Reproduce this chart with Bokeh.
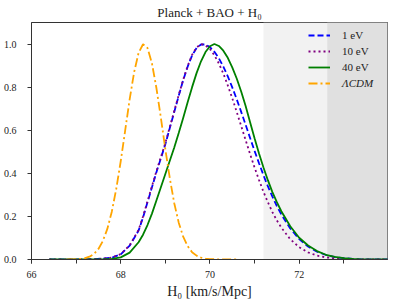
from bokeh.plotting import figure
from bokeh.models import (Range1d, SingleIntervalTicker, PrintfTickFormatter,
                          Legend, LegendItem, BoxAnnotation, Title)
from bokeh.embed import file_html
from bokeh.resources import INLINE

# ---------------- data ----------------
title_text = "Planck + BAO + H\u2080"
xlabel_text = "H\u2080 [km/s/Mpc]"
series_names = ["1 eV", "10 eV", "40 eV", "\u039bCDM"]

h0_grid = [66.4, 66.6, 66.8, 67.0, 67.2, 67.4, 67.6, 67.8, 68.0, 68.2, 68.4,
           68.5, 68.6, 68.7, 68.8, 68.9,
           69.0, 69.1, 69.2, 69.3, 69.4, 69.5, 69.6, 69.7, 69.8, 69.9,
           70.0, 70.1, 70.2, 70.3, 70.4, 70.5, 70.6, 70.7, 70.8, 70.9,
           71.0, 71.1, 71.2, 71.3, 71.4, 71.5,
           71.6, 71.8, 72.0, 72.2, 72.4, 72.6, 72.8, 73.0, 73.2, 73.4, 73.6, 73.8, 74.0]

one_ev = [0.000, 0.000, 0.000, 0.000, 0.001, 0.002, 0.004, 0.008, 0.024, 0.064, 0.134,
          0.195, 0.266, 0.335, 0.405, 0.470,
          0.535, 0.610, 0.685, 0.760, 0.832, 0.895, 0.947, 0.982, 0.998, 0.998,
          0.986, 0.964, 0.934, 0.895, 0.850, 0.799, 0.744, 0.685, 0.625, 0.564,
          0.504, 0.447, 0.391, 0.339, 0.292, 0.248,
          0.209, 0.144, 0.095, 0.060, 0.036, 0.021, 0.011, 0.006, 0.003, 0.001, 0.000, 0.000, 0.000]

ten_ev = [0.000, 0.000, 0.000, 0.000, 0.001, 0.002, 0.004, 0.009, 0.025, 0.066, 0.137,
          0.200, 0.270, 0.340, 0.410, 0.475,
          0.540, 0.615, 0.690, 0.763, 0.835, 0.898, 0.950, 0.984, 1.000, 0.994,
          0.977, 0.948, 0.910, 0.863, 0.808, 0.749, 0.685, 0.620, 0.554, 0.489,
          0.427, 0.369, 0.314, 0.265, 0.220, 0.181,
          0.148, 0.094, 0.057, 0.033, 0.018, 0.010, 0.005, 0.002, 0.001, 0.000, 0.000, 0.000, 0.000]

forty_ev = [0.000, 0.000, 0.000, 0.000, 0.000, 0.000, 0.001, 0.003, 0.010, 0.032, 0.080,
            0.115, 0.160, 0.213, 0.274, 0.335,
            0.397, 0.458, 0.520, 0.587, 0.657, 0.730, 0.800, 0.865, 0.920, 0.963,
            0.990, 1.000, 0.991, 0.969, 0.936, 0.892, 0.840, 0.780, 0.712, 0.637,
            0.563, 0.492, 0.427, 0.367, 0.313, 0.266,
            0.224, 0.154, 0.101, 0.065, 0.039, 0.022, 0.012, 0.006, 0.003, 0.001, 0.000, 0.000, 0.000]

lcdm_grid = [66.8, 66.9, 67.0, 67.1, 67.2, 67.3, 67.4, 67.5, 67.6, 67.7,
             67.8, 67.9, 68.0, 68.1, 68.2, 68.3, 68.4, 68.5, 68.6, 68.7,
             68.8, 68.9, 69.0, 69.1, 69.2, 69.3, 69.4, 69.5, 69.6, 69.7,
             69.8, 69.9, 70.0, 70.1, 70.2, 70.3, 70.4, 70.5, 70.6]

lcdm = [0.000, 0.000, 0.001, 0.003, 0.006, 0.013, 0.026, 0.049, 0.086, 0.142,
        0.222, 0.328, 0.456, 0.599, 0.743, 0.869, 0.959, 0.999, 0.982, 0.910,
        0.796, 0.658, 0.512, 0.377, 0.261, 0.171, 0.106, 0.062, 0.034, 0.018,
        0.009, 0.004, 0.002, 0.001, 0.000, 0.000, 0.000, 0.000, 0.000]

# shaded bands (start of each band, extending to the right edge)
band_light_start = 71.2
band_dark_start = 72.63

x_limits = (66.0, 73.98)
y_limits = (0.0, 1.1)

# ---------------- figure ----------------
FONT = "Liberation Serif"
AX = "#333333"
TXT = "#222222"

W, H = 397, 306
ML, MR, MT, MB = 31, 10, 22, 47

p = figure(width=W, height=H, title=None,
           x_range=Range1d(*x_limits), y_range=Range1d(*y_limits),
           output_backend="svg", toolbar_location=None,
           min_border_left=ML, min_border_right=MR,
           min_border_top=MT, min_border_bottom=MB)

p.add_layout(Title(text=title_text, align="center", text_font=FONT,
                   text_font_size="13px", text_font_style="normal",
                   text_color=TXT, standoff=5, offset=0), "above")

p.xgrid.visible = False
p.ygrid.visible = False
p.background_fill_color = "white"
p.border_fill_color = "white"
p.outline_line_color = AX
p.outline_line_width = 1

p.add_layout(BoxAnnotation(left=band_light_start, fill_color="#f2f2f2",
                           fill_alpha=1.0, line_alpha=0, level="underlay"))
p.add_layout(BoxAnnotation(left=band_dark_start, fill_color="#e0e0e0",
                           fill_alpha=1.0, line_alpha=0, level="underlay"))

r1 = p.line(h0_grid, one_ev, line_color="blue", line_width=1.8, line_dash="6 3")
r2 = p.line(h0_grid, ten_ev, line_color="purple", line_width=1.8, line_dash="2 3")
r3 = p.line(h0_grid, forty_ev, line_color="green", line_width=1.8)
r4 = p.line(lcdm_grid, lcdm, line_color="orange", line_width=1.8, line_dash="9 3 2 3")

# axes
p.xaxis.ticker = SingleIntervalTicker(interval=2, num_minor_ticks=2)
p.yaxis.ticker = SingleIntervalTicker(interval=0.2, num_minor_ticks=0)
p.xaxis.formatter = PrintfTickFormatter(format="%d")
p.yaxis.formatter = PrintfTickFormatter(format="%.1f")
for ax in (p.xaxis[0], p.yaxis[0]):
    ax.axis_line_color = AX
    ax.major_tick_line_color = AX
    ax.minor_tick_line_color = AX
    ax.major_tick_out = 4
    ax.major_tick_in = 0
    ax.minor_tick_out = 4
    ax.minor_tick_in = 0
    ax.major_label_text_font = FONT
    ax.major_label_text_font_size = "10px"
    ax.major_label_text_color = TXT
p.xaxis.major_label_standoff = 7
p.yaxis.major_label_standoff = 11
p.xaxis.axis_label = xlabel_text
p.xaxis.axis_label_text_font = FONT
p.xaxis.axis_label_text_font_size = "14px"
p.xaxis.axis_label_text_font_style = "normal"
p.xaxis.axis_label_text_color = TXT
p.xaxis.axis_label_standoff = 3

common = dict(background_fill_alpha=0, border_line_alpha=0,
              padding=0, margin=0, spacing=0,
              glyph_width=22, glyph_height=16, label_height=16,
              label_standoff=12, orientation="vertical",
              label_text_font=FONT, label_text_font_size="11px",
              label_text_color=TXT)

legend = Legend(items=[LegendItem(label=series_names[0], renderers=[r1]),
                       LegendItem(label=series_names[1], renderers=[r2]),
                       LegendItem(label=series_names[2], renderers=[r3])],
                location=(277, 184), **common)
legend2 = Legend(items=[LegendItem(label=series_names[3], renderers=[r4])],
                 location=(277, 168), label_text_font_style="italic", **common)
p.add_layout(legend)
p.add_layout(legend2)

open("out.html", "w").write(file_html(p, INLINE))
